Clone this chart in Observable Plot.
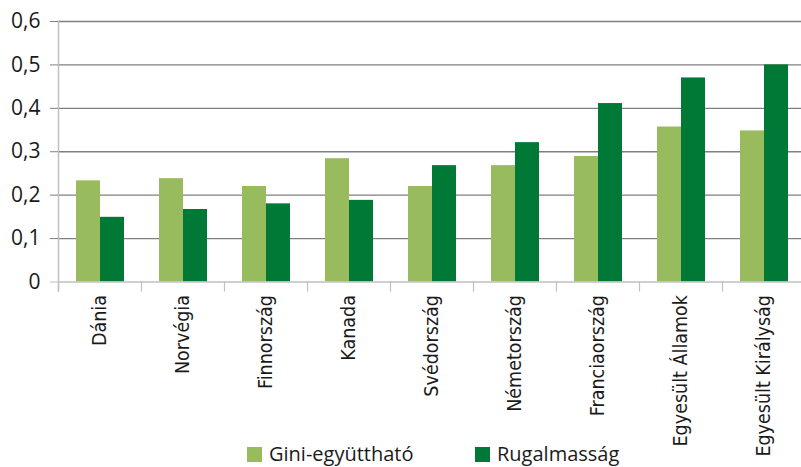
<!DOCTYPE html>
<html><head><meta charset="utf-8">
<script src="https://cdn.jsdelivr.net/npm/d3@7"></script>
<script src="https://cdn.jsdelivr.net/npm/@observablehq/plot@0.6"></script>
<style>
body{margin:0;background:#fff;font-family:"Open Sans",sans-serif;}
#wrap{position:relative;width:801px;height:467px;overflow:hidden;background:#fff;}
#wrap svg{position:absolute;left:0;top:0;}
.leg{position:absolute;top:444px;height:20px;display:flex;align-items:center;font-size:20px;line-height:20px;color:#1a1a1a;white-space:nowrap;}
.sw{width:15px;height:15px;margin-right:7px;flex:none;}
</style></head><body><div id="wrap"></div>
<script>
const countries = ["Dánia","Norvégia","Finnország","Kanada","Svédország","Németország","Franciaország","Egyesült Államok","Egyesült Királyság"];
const gini = [0.233,0.238,0.220,0.284,0.220,0.268,0.289,0.357,0.348];
const rugalmassag = [0.149,0.167,0.180,0.188,0.268,0.321,0.411,0.470,0.500];
const seriesNames = ["Gini-együttható","Rugalmasság"];
const seriesColors = ["#98bb5e","#007836"];
const yTicks = [0,0.1,0.2,0.3,0.4,0.5,0.6];

const data = countries.flatMap((c,i)=>[
  {country:c, series:seriesNames[0], value:gini[i]},
  {country:c, series:seriesNames[1], value:rugalmassag[i]}
]);
const fmt = d => String(d).replace(".", ",");

const chart = Plot.plot({
  width: 801, height: 440,
  marginLeft: 58, marginRight: -4, marginTop: 21, marginBottom: 158.5,
  style: {fontFamily: "Open Sans", background: "white", overflow: "visible", color: "#1a1a1a"},
  fx: {domain: countries, padding: 0, axis: null, label: null},
  x: {domain: seriesNames, paddingInner: 0, paddingOuter: 0.69, axis: null},
  y: {domain: [0, 0.6], axis: null},
  color: {domain: seriesNames, range: seriesColors},
  marks: [
    Plot.ruleY(yTicks.filter(d => d > 0), {stroke: "#7f7f7f", strokeWidth: 1.4}),
    Plot.barY(data, {fx: "country", x: "series", y: "value", fill: "series"}),
    Plot.ruleY([0], {stroke: "#c0c0c0", strokeWidth: 1.5}),
    Plot.frame({anchor: "left", stroke: "#c0c0c0", strokeWidth: 1.2, insetTop: 260.5, insetBottom: -9}),
    Plot.frame({anchor: "left", facetAnchor: "left", stroke: "#c0c0c0", strokeWidth: 1.5, insetBottom: -9}),
    Plot.axisY({ticks: yTicks.filter(d => d > 0), tickSize: 8, stroke: "#7f7f7f", tickPadding: 10, fontSize: 21, tickFormat: fmt, label: null}),
    Plot.axisY({ticks: [0], tickSize: 8, stroke: "#c0c0c0", tickPadding: 10, fontSize: 21, tickFormat: fmt, label: null}),
    Plot.axisFx({anchor: "bottom", tickSize: 0, tickRotate: -90, tickPadding: 13, fontSize: 19.5, fontFamily: "'Liberation Sans Narrow', 'DejaVu Sans Condensed', sans-serif", label: null})
  ]
});
const wrap = document.getElementById("wrap");
wrap.appendChild(chart);
const legendLeft = [247, 475];
seriesNames.forEach((s, i) => {
  const item = document.createElement("div");
  item.className = "leg";
  item.style.left = legendLeft[i] + "px";
  const sw = document.createElement("span");
  sw.className = "sw";
  sw.style.background = seriesColors[i];
  const t = document.createElement("span");
  t.textContent = s;
  item.appendChild(sw); item.appendChild(t);
  wrap.appendChild(item);
});
</script></body></html>
